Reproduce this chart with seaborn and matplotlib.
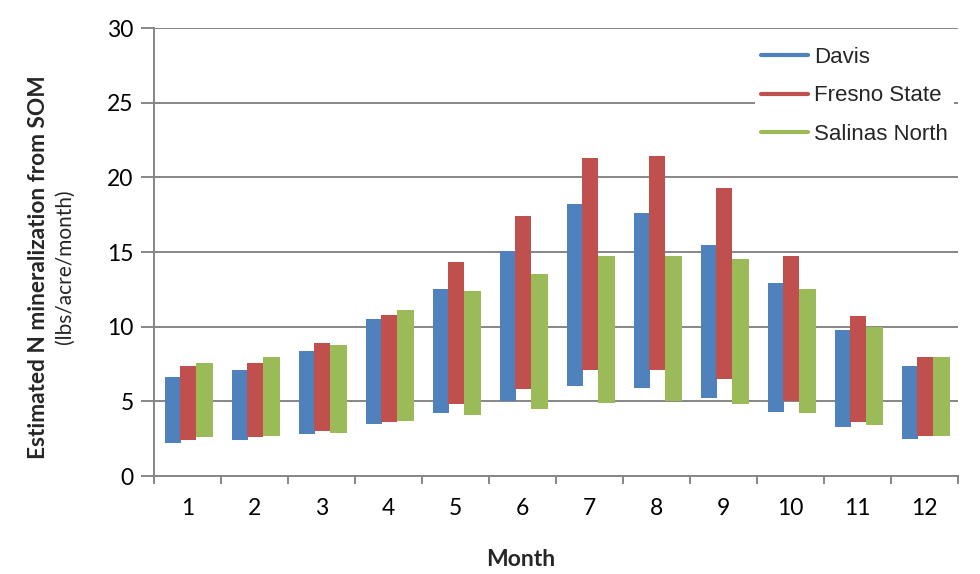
import numpy as np
import pandas as pd
import matplotlib
matplotlib.use("Agg")
import matplotlib.pyplot as plt
from matplotlib.lines import Line2D
import seaborn as sns

# values (lbs/acre/month)
months = [str(m) for m in range(1, 13)]
sites = ["Davis", "Fresno State", "Salinas North"]

davis_top = [6.6, 7.1, 8.4, 10.5, 12.5, 15.1, 18.2, 17.6, 15.5, 12.9, 9.8, 7.4]
davis_bottom = [2.2, 2.4, 2.8, 3.5, 4.2, 5.0, 6.0, 5.9, 5.2, 4.3, 3.3, 2.5]
fresno_top = [7.4, 7.6, 8.9, 10.8, 14.3, 17.4, 21.3, 21.4, 19.3, 14.7, 10.7, 8.0]
fresno_bottom = [2.4, 2.6, 3.0, 3.6, 4.8, 5.8, 7.1, 7.1, 6.5, 5.0, 3.6, 2.7]
salinas_top = [7.6, 8.0, 8.8, 11.1, 12.4, 13.5, 14.7, 14.7, 14.5, 12.5, 10.0, 8.0]
salinas_bottom = [2.6, 2.7, 2.9, 3.7, 4.1, 4.5, 4.9, 5.0, 4.8, 4.2, 3.4, 2.7]

tops = {"Davis": davis_top, "Fresno State": fresno_top, "Salinas North": salinas_top}
bottoms = {"Davis": davis_bottom, "Fresno State": fresno_bottom, "Salinas North": salinas_bottom}

rows = []
for s in sites:
    for i, m in enumerate(months):
        rows.append({"Month": m, "Site": s, "top": tops[s][i], "bottom": bottoms[s][i]})
df = pd.DataFrame(rows)
df["height"] = df["top"] - df["bottom"]

colors = {"Davis": "#4F81BD", "Fresno State": "#C0504D", "Salinas North": "#9BBB59"}
# bar centre offsets inside each month slot, as in the original layout
offsets = {"Davis": -0.216, "Fresno State": 0.008, "Salinas North": 0.257}
bar_w = 0.247
grey = "#868686"

sns.set_theme(style="white")
plt.rcParams["font.family"] = ["Lato", "DejaVu Sans"]

fig = plt.figure(figsize=(9.8, 5.74), dpi=100)
ax = fig.add_axes([0.157, 0.1707, 0.8206, 0.7805])

sns.barplot(data=df, x="Month", y="height", hue="Site", order=months,
            hue_order=sites, palette=colors, width=0.75, dodge=True,
            legend=False, linewidth=0, saturation=1, ax=ax, zorder=3)

# turn the bars into floating ranges: move each to its bottom value
for s, cont in zip(sites, ax.containers):
    for patch in cont.patches:
        idx = int(round(patch.get_x() + patch.get_width() / 2))
        patch.set_y(bottoms[s][idx])
        patch.set_width(bar_w)
        patch.set_x(idx + offsets[s] - bar_w / 2)

ax.set_xlim(-0.5, 11.5)
ax.set_ylim(0, 30)
ax.set_yticks(np.arange(0, 31, 5))
ax.set_xticks(range(12))
ax.set_xticklabels(months)
ax.set_xticks(np.arange(-0.5, 12, 1), minor=True)

ax.yaxis.grid(True, color=grey, linewidth=1.4, zorder=0)
ax.xaxis.grid(False)
ax.set_axisbelow(True)
for side in ["top", "right"]:
    ax.spines[side].set_visible(False)
for side in ["left", "bottom"]:
    ax.spines[side].set_color(grey)
    ax.spines[side].set_linewidth(1.4)

ax.tick_params(axis="y", which="major", length=9.5, width=1.4, color=grey,
               direction="out", left=True, labelsize=16.5, pad=5, labelcolor="black")
ax.tick_params(axis="x", which="major", length=0, labelsize=16.5, pad=16, labelcolor="black")
ax.tick_params(axis="x", which="minor", length=6, width=1.4, color=grey,
               direction="out", bottom=True)

ax.set_xlabel("Month", fontsize=16.5, fontweight="bold")
ax.xaxis.set_label_coords(0.456, -0.163)
ax.set_ylabel("")

fig.text(0.039, 0.535, "Estimated N mineralization from SOM", rotation=90,
         ha="center", va="center", fontsize=16.3, fontweight="bold")
fig.text(0.066, 0.535, "(lbs/acre/month)", rotation=90,
         ha="center", va="center", fontsize=15)

handles = [Line2D([0], [0], color=colors[s], linewidth=3) for s in sites]
leg = ax.legend(handles, sites, loc="upper right", bbox_to_anchor=(1.009, 0.997),
                frameon=True, framealpha=1, facecolor="white", edgecolor="none",
                fancybox=False, handlelength=2.1, handletextpad=0.25,
                labelspacing=0.78, borderpad=0.3,
                prop={"family": ["Liberation Sans"], "size": 16})
leg.set_zorder(5)

fig.savefig("out.png", dpi=100, facecolor="white")
